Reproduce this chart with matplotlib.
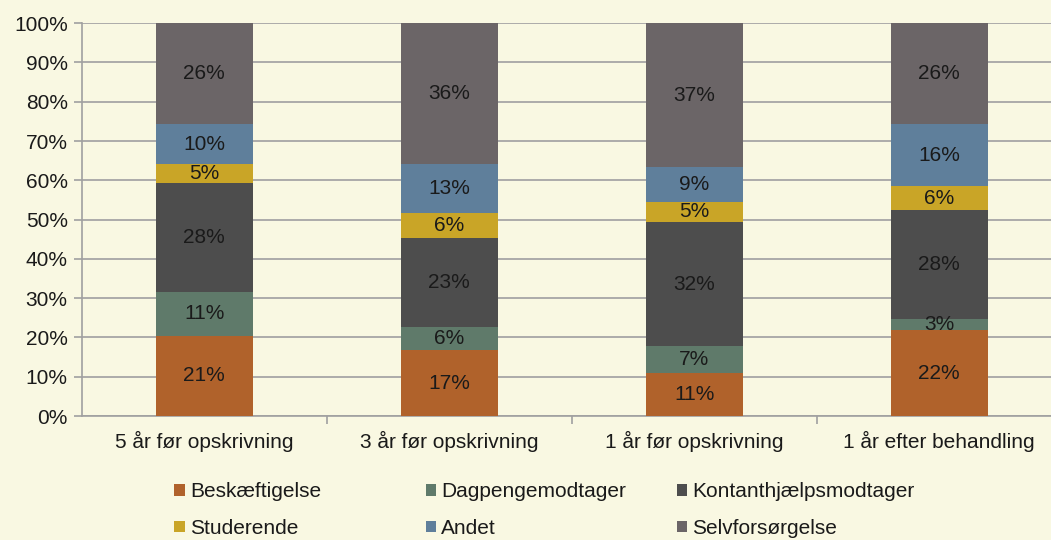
import matplotlib
matplotlib.use("Agg")
import matplotlib.pyplot as plt
import numpy as np
from matplotlib.patches import Patch

plt.rcParams['font.family'] = ['Liberation Sans', 'DejaVu Sans']

categories = ["5 år før opskrivning", "3 år før opskrivning", "1 år før opskrivning", "1 år efter behandling"]
series_names = ["Beskæftigelse", "Dagpengemodtager", "Kontanthjælpsmodtager", "Studerende", "Andet", "Selvforsørgelse"]
beskaeftigelse = [20.4, 16.8, 10.9, 21.9]
dagpenge = [11.2, 5.8, 6.9, 2.8]
kontanthjaelp = [27.7, 22.7, 31.6, 27.7]
studerende = [4.8, 6.4, 5.1, 6.1]
andet = [10.2, 12.4, 8.9, 15.8]
selvforsorgelse = [25.7, 35.9, 36.6, 25.7]
label_beskaeftigelse = [21, 17, 11, 22]
label_dagpenge = [11, 6, 7, 3]
label_kontanthjaelp = [28, 23, 32, 28]
label_studerende = [5, 6, 5, 6]
label_andet = [10, 13, 9, 16]
label_selvforsorgelse = [26, 36, 37, 26]
yticks = [0, 10, 20, 30, 40, 50, 60, 70, 80, 90, 100]

series = [beskaeftigelse, dagpenge, kontanthjaelp, studerende, andet, selvforsorgelse]
labels = [label_beskaeftigelse, label_dagpenge, label_kontanthjaelp, label_studerende, label_andet, label_selvforsorgelse]
colors = ["#B0622B", "#5F7A6A", "#4D4D4D", "#C9A527", "#5F7F9B", "#6B6567"]

bg = "#F9F8E2"
fig = plt.figure(figsize=(10.51, 5.40), dpi=100, facecolor=bg)
ax = fig.add_axes([0.0776, 0.2296, 0.9325, 0.7274], facecolor=bg)

x = np.arange(len(categories))
bottom = np.zeros(len(categories))
for vals, labs, col, name in zip(series, labels, colors, series_names):
    vals = np.array(vals)
    ax.bar(x, vals, bottom=bottom, width=0.396, color=col, zorder=3, label=name)
    for xi, b, v, l in zip(x, bottom, vals, labs):
        ax.text(xi, b + v / 2, f"{l}%", ha="center", va="center", fontsize=15,
                color="#1a1a1a", zorder=4)
    bottom += vals

ax.set_xlim(-0.5, len(categories) - 0.5)
ax.set_ylim(0, 100)
ax.set_yticks(yticks)
ax.set_yticklabels([f"{t}%" for t in yticks], fontsize=15, color="#1a1a1a")
ax.set_xticks(x)
ax.set_xticklabels(categories, fontsize=15, color="#1a1a1a")
ax.set_xticks(np.arange(0.5, len(categories) - 0.5, 1), minor=True)
ax.tick_params(axis="x", which="major", length=0, pad=11)
ax.tick_params(axis="x", which="minor", length=6, color="#A0A0A0", width=1.2)
ax.tick_params(axis="y", length=6, color="#A0A0A0", width=1.2, pad=4)
ax.grid(axis="y", color="#A6A6A6", linewidth=1.3, zorder=0)
for s in ["top", "right"]:
    ax.spines[s].set_visible(False)
for s in ["left", "bottom"]:
    ax.spines[s].set_color("#A0A0A0")
    ax.spines[s].set_linewidth(1.2)

# Legend: three columns of two rows
order_cols = [[0, 3], [1, 4], [2, 5]]
col_x = [0.166, 0.405, 0.644]
for cx, idxs in zip(col_x, order_cols):
    handles = [Patch(facecolor=colors[i], edgecolor="none") for i in idxs]
    leg = fig.legend(handles, [series_names[i] for i in idxs], loc="upper left",
                     bbox_to_anchor=(cx, 0.107), frameon=False, fontsize=15,
                     handlelength=0.5, handleheight=0.5, handletextpad=0.25,
                     labelspacing=0.85, borderaxespad=0, borderpad=0)
    for t in leg.get_texts():
        t.set_color("#1a1a1a")

fig.savefig("out.png", dpi=100, facecolor=bg)
